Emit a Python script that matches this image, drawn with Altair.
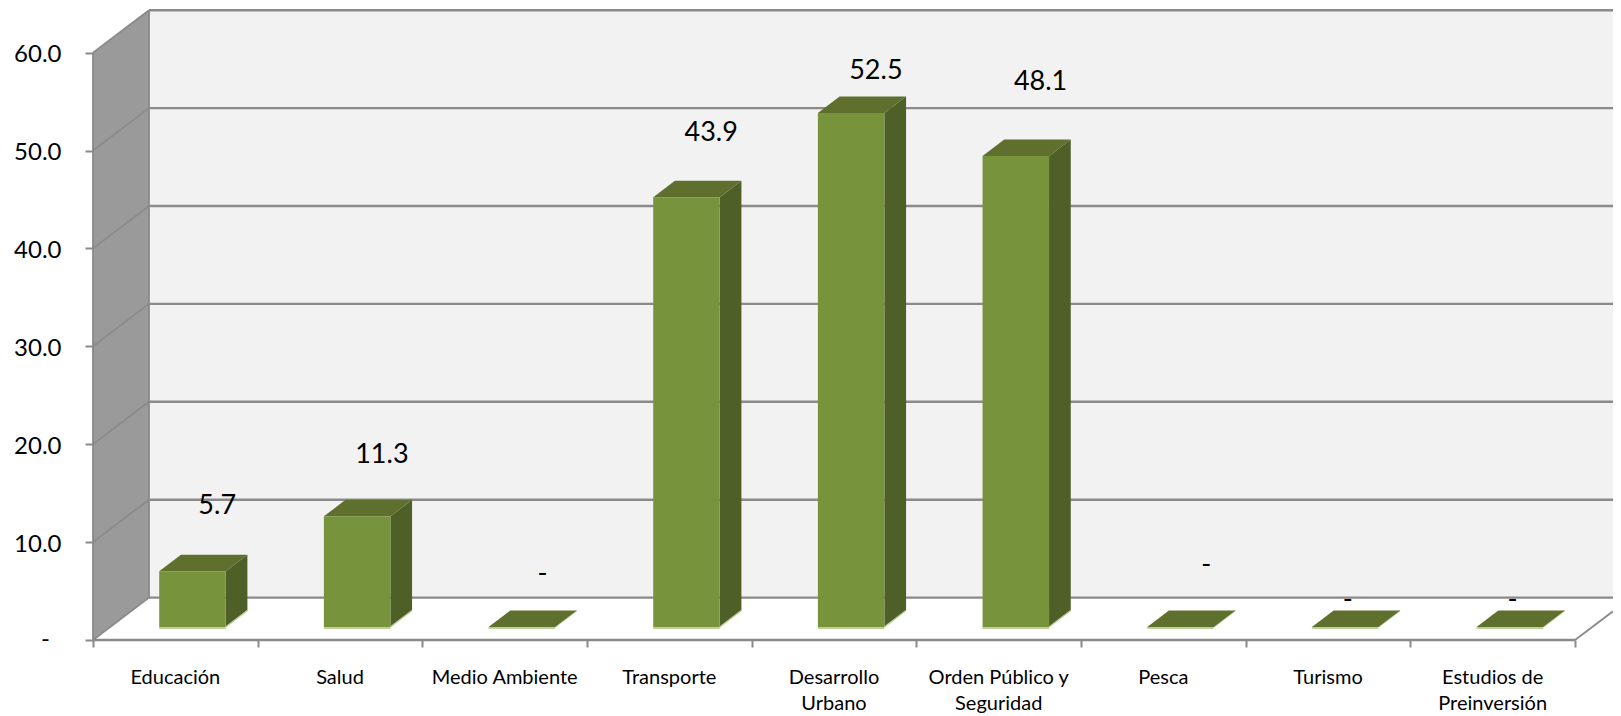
import altair as alt
import pandas as pd

categories = ["Educación", "Salud", "Medio Ambiente", "Transporte", "Desarrollo\nUrbano",
              "Orden Público y\nSeguridad", "Pesca", "Turismo", "Estudios de\nPreinversión"]
values = [5.7, 11.3, 0, 43.9, 52.5, 48.1, 0, 0, 0]
label_texts = ["5.7", "11.3", "-", "43.9", "52.5", "48.1", "-", "-", "-"]
label_lift = [6.7, 6.3, 5.4, 6.6, 4.3, 7.6, 6.3, 2.8, 2.8]
label_shift = [0, 0, -4, 0, 0, 0, 1, -22, -22]
y_ticks = [0, 10, 20, 30, 40, 50, 60]
zero_label = "-"

W, H = 1605, 708
PX_PER_CAT = 164.67
PX_PER_VAL = 9.79
X_MIN, X_MAX = (8 - 93) / PX_PER_CAT, (8 + W - 93) / PX_PER_CAT
Y_MAX, Y_MIN = (640 - 8) / PX_PER_VAL, (640 - 8 - H) / PX_PER_VAL
WALL_DX, WALL_DY = 56 / PX_PER_CAT, 42.4 / PX_PER_VAL
BAR_OFF, BAR_W = 66.2 / PX_PER_CAT, 66.5 / PX_PER_CAT
BAR_DX, BAR_DY = 21.7 / PX_PER_CAT, 16.5 / PX_PER_VAL
BASE = 13 / PX_PER_VAL
N = len(categories)

GRID = "#8a8a8a"
EDGE = "#bdcf9b"
FONT = "Lato"
xs = alt.Scale(domain=[X_MIN, X_MAX], nice=False, zero=False)
ys = alt.Scale(domain=[Y_MIN, Y_MAX], nice=False, zero=False)

AX = alt.Axis(values=list(range(N + 1)), labels=False, title=None, grid=False, domain=False,
              tickSize=7, tickWidth=2, tickColor=GRID, offset=-(8 + H - 640))
AY = alt.Axis(values=y_ticks, title=None, grid=False, domain=False, tickSize=8, tickWidth=2, tickColor=GRID,
              labelExpr="datum.value === 0 ? '' : format(datum.value, '.1f')",
              labelFont=FONT, labelFontSize=24, labelColor="#000000", labelPadding=24, labelOffset=2, offset=-85)


def X(field="x"):
    return alt.X(f"{field}:Q", scale=xs, axis=AX)


def Y(field="y"):
    return alt.Y(f"{field}:Q", scale=ys, axis=AY)


# walls
back = alt.Chart(pd.DataFrame([{"x": WALL_DX, "x2": X_MAX, "y": WALL_DY, "y2": 60 + WALL_DY}])).mark_rect(
    color="#f2f2f2").encode(X(), x2="x2:Q", y=Y(), y2="y2:Q")

wall = alt.Chart(pd.DataFrame([
    {"x": 0, "y": 0, "y2": 60},
    {"x": WALL_DX, "y": WALL_DY, "y2": 60 + WALL_DY},
])).mark_area(color="#9a9a9a", opacity=1).encode(X(), y=Y(), y2="y2:Q")

grid_back = alt.Chart(pd.DataFrame({"y": [v + WALL_DY for v in y_ticks], "x": WALL_DX, "x2": X_MAX})).mark_rule(
    color=GRID, strokeWidth=2.4).encode(X(), x2="x2:Q", y=Y())

diag_rows = []
for v in y_ticks:
    diag_rows += [{"k": v, "x": 0, "y": v}, {"k": v, "x": WALL_DX, "y": v + WALL_DY}]
diag_rows += [{"k": "l", "x": 0, "y": 0}, {"k": "l", "x": 0, "y": 60},
              {"k": "b", "x": WALL_DX, "y": WALL_DY}, {"k": "b", "x": WALL_DX, "y": 60 + WALL_DY}]
diag_rows += [{"k": "f", "x": 9, "y": 0}, {"k": "f", "x": X_MAX, "y": (X_MAX - 9) / WALL_DX * WALL_DY}]
diag = alt.Chart(pd.DataFrame(diag_rows)).mark_line(color=GRID, strokeWidth=1.8).encode(
    X(), Y(), detail="k:N", order="y:Q")

front_line = alt.Chart(pd.DataFrame([{"x": 0, "x2": N, "y": 0}])).mark_rule(color=GRID, strokeWidth=2.6).encode(
    X(), x2="x2:Q", y=Y())

# bars
df = pd.DataFrame({"i": range(N), "v": values})
df["l"] = df.i + BAR_OFF
df["r"] = df.l + BAR_W
df["y0"] = BASE
df["y1"] = BASE + df.v
df["y0b"] = BASE - 0.1

side_rows, top_rows, edge_rows = [], [], []
for row in df.itertuples():
    if row.v > 0:
        side_rows += [{"k": row.i, "x": row.r, "y": row.y0, "y2": row.y1},
                      {"k": row.i, "x": row.r + BAR_DX, "y": row.y0 + BAR_DY, "y2": row.y1 + BAR_DY}]
    top_rows += [{"k": row.i, "x": row.l, "y": row.y1, "y2": row.y1},
                 {"k": row.i, "x": row.l + BAR_DX, "y": row.y1, "y2": row.y1 + BAR_DY},
                 {"k": row.i, "x": row.r, "y": row.y1, "y2": row.y1 + BAR_DY},
                 {"k": row.i, "x": row.r + BAR_DX, "y": row.y1 + BAR_DY, "y2": row.y1 + BAR_DY}]
    edge_rows += [{"k": row.i, "x": row.r, "y": row.y0}, {"k": row.i, "x": row.r + BAR_DX, "y": row.y0 + BAR_DY}]

side = alt.Chart(pd.DataFrame(side_rows)).mark_area(color="#4e5f27", opacity=1).encode(
    X(), y=Y(), y2="y2:Q", detail="k:N")
top = alt.Chart(pd.DataFrame(top_rows)).mark_area(color="#5f702e", opacity=1).encode(
    X(), y=Y(), y2="y2:Q", detail="k:N")
front = alt.Chart(df[df.v > 0]).mark_rect(color="#77933c").encode(
    x=X("l"), x2="r:Q", y=Y("y0"), y2="y1:Q")
edge = alt.Chart(df).mark_rule(color=EDGE, strokeWidth=2).encode(
    x=X("l"), x2="r:Q", y=Y("y0b"))
edge_side = alt.Chart(pd.DataFrame(edge_rows)).mark_line(color=EDGE, strokeWidth=1.5).encode(
    X(), Y(), detail="k:N")

# texts
lab = pd.DataFrame({"x": [i + BAR_OFF + (58 + s) / PX_PER_CAT for i, s in zip(range(N), label_shift)],
                    "y": [BASE + v + l for v, l in zip(values, label_lift)],
                    "t": label_texts})
labels = alt.Chart(lab).mark_text(font=FONT, fontSize=27, color="#000000", baseline="middle").encode(
    X(), Y(), text="t:N")

zero = alt.Chart(pd.DataFrame([{"x": (45.5 - 93) / PX_PER_CAT, "y": 0, "t": zero_label}])).mark_text(
    font=FONT, fontSize=24, color="#000000", baseline="middle").encode(X(), Y(), text="t:N")

cat = pd.DataFrame({"x": [i + 0.5 for i in range(N)], "y": [(640 - 684) / PX_PER_VAL] * N, "t": categories})
cat_labels = alt.Chart(cat).mark_text(font=FONT, fontSize=20, color="#000000", baseline="alphabetic",
                                      lineBreak="\n", lineHeight=26).encode(X(), Y(), text="t:N")

chart = alt.layer(back, wall, grid_back, diag, front_line, side, edge_side, top, front, edge, labels, zero,
                  cat_labels).properties(
    width=W, height=H, padding=0, autosize=alt.AutoSizeParams(type="none"), background="white"
).configure_view(stroke=None)

chart.save("out.html", embed_options={"renderer": "svg", "actions": False})
